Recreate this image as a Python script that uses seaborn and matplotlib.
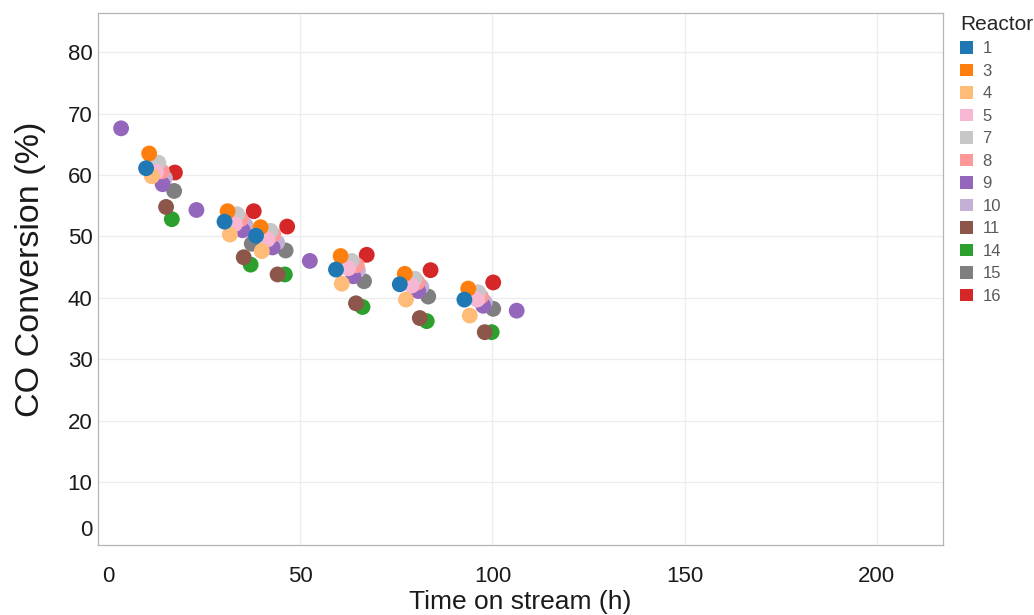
import numpy as np
import pandas as pd
import matplotlib
matplotlib.use("Agg")
import matplotlib.pyplot as plt
import matplotlib.transforms as mtransforms
from matplotlib.patches import Patch
import seaborn as sns

# Reactor ids in legend order and their colours
reactors = ["1", "3", "4", "5", "7", "8", "9", "10", "11", "14", "15", "16"]
colors = ["#1f77b4", "#ff7f0e", "#ffbb78", "#f7b6d2", "#c7c7c7", "#ff9896",
          "#9467bd", "#c5b0d5", "#8c564b", "#2ca02c", "#7f7f7f", "#d62728"]

# Time on stream (h) per reactor
tos_1 = [9.9, 30.3, 38.5, 59.3, 75.9, 92.7]
tos_3 = [10.7, 31.1, 39.7, 60.5, 77.2, 93.7]
tos_4 = [11.4, 31.7, 40.0, 60.8, 77.5, 94.1]
tos_5 = [12.5, 33.0, 41.5, 62.5, 79.0, 96.0]
tos_7 = [13.1, 33.6, 42.3, 63.4, 79.8, 96.3]
tos_8 = [14.0, 34.5, 43.0, 64.7, 80.5, 97.0]
tos_9 = [3.4, 14.2, 23.0, 35.0, 42.8, 52.5, 63.8, 80.7, 97.6, 106.3]
tos_10 = [14.8, 35.8, 44.0, 65.0, 81.5, 98.0]
tos_11 = [15.1, 35.3, 44.1, 64.5, 81.1, 98.0]
tos_14 = [16.6, 37.1, 46.0, 66.2, 82.9, 99.8]
tos_15 = [17.2, 37.4, 46.2, 66.6, 83.3, 100.2]
tos_16 = [17.4, 37.9, 46.6, 67.3, 83.9, 100.2]

# CO conversion (%) per reactor
conv_1 = [61.1, 52.4, 50.1, 44.6, 42.2, 39.7]
conv_3 = [63.5, 54.1, 51.5, 46.8, 43.9, 41.5]
conv_4 = [59.8, 50.3, 47.6, 42.3, 39.7, 37.1]
conv_5 = [60.5, 52.0, 49.5, 44.8, 42.0, 39.7]
conv_7 = [62.0, 53.6, 50.9, 46.0, 43.1, 40.9]
conv_8 = [60.6, 52.8, 50.3, 45.3, 42.5, 40.2]
conv_9 = [67.6, 58.5, 54.3, 51.0, 48.2, 46.0, 43.5, 41.1, 38.7, 37.9]
conv_10 = [59.5, 51.8, 49.0, 44.5, 41.8, 39.3]
conv_11 = [54.8, 46.6, 43.8, 39.1, 36.7, 34.4]
conv_14 = [52.8, 45.4, 43.8, 38.5, 36.2, 34.4]
conv_15 = [57.4, 48.8, 47.7, 42.7, 40.2, 38.2]
conv_16 = [60.4, 54.1, 51.6, 47.0, 44.5, 42.5]

xticks = [0, 50, 100, 150, 200]
yticks = [0, 10, 20, 30, 40, 50, 60, 70, 80]

tos = [tos_1, tos_3, tos_4, tos_5, tos_7, tos_8, tos_9, tos_10,
       tos_11, tos_14, tos_15, tos_16]
conv = [conv_1, conv_3, conv_4, conv_5, conv_7, conv_8, conv_9, conv_10,
        conv_11, conv_14, conv_15, conv_16]

# Last reactor first so reactor 1 ends up on top
frames = []
for r, t, c in reversed(list(zip(reactors, tos, conv))):
    frames.append(pd.DataFrame({"Time on stream (h)": t,
                                "CO Conversion (%)": c,
                                "Reactor": r}))
df = pd.concat(frames, ignore_index=True)

sns.set_theme(style="white")
plt.rcParams["font.family"] = ["Liberation Sans", "DejaVu Sans"]

fig = plt.figure(figsize=(10.34, 6.15), dpi=100)
ax = fig.add_axes([0.0948, 0.114, 0.8172, 0.865])

palette = dict(zip(reactors, colors))
sns.scatterplot(data=df, x="Time on stream (h)", y="CO Conversion (%)",
                hue="Reactor", hue_order=reactors, palette=palette,
                s=130, linewidth=0, alpha=1.0, legend=False, ax=ax, zorder=3)

ax.set_xlim(-2.6, 217.2)
ax.set_ylim(-0.25, 86.4)
ax.set_xticks(xticks)
ax.set_yticks(yticks)
ax.set_xticklabels([str(v) for v in xticks])
ax.set_yticklabels([str(v) for v in yticks])

ax.grid(True, color="#ececec", linewidth=0.9)
ax.set_axisbelow(True)
# no grid line along the zero positions
ax.xaxis.get_major_ticks()[0].gridline.set_visible(False)
ax.yaxis.get_major_ticks()[0].gridline.set_visible(False)
for sp in ax.spines.values():
    sp.set_color("#b5b5b5")
    sp.set_linewidth(0.9)

ax.tick_params(axis="both", labelsize=16, colors="#1a1a1a", length=3,
               color="#c8c8c8", width=0.8)
ax.tick_params(axis="x", pad=12, bottom=False)
ax.tick_params(axis="y", pad=1)

ax.set_xlabel("Time on stream (h)", fontsize=19, color="#1a1a1a", labelpad=2)
ax.set_ylabel("CO Conversion (%)", fontsize=24.5, color="#1a1a1a")
ax.yaxis.set_label_coords(-0.061, 0.518)

# Lift the zero label off the x axis line
zero_lbl = ax.yaxis.get_major_ticks()[0].label1
zero_lbl.set_transform(zero_lbl.get_transform() +
                       mtransforms.ScaledTranslation(0, 11 / 72, fig.dpi_scale_trans))

handles = [Patch(facecolor=c, edgecolor="none", label=r)
           for r, c in zip(reactors, colors)]
leg = fig.legend(handles=handles, title="Reactor", loc="upper left",
                 bbox_to_anchor=(0.917, 0.995), frameon=False, fontsize=12,
                 title_fontsize=15, handlelength=0.8, handleheight=0.8,
                 handletextpad=0.55, labelspacing=0.44, borderpad=0.2,
                 alignment="left")
for txt in leg.get_texts():
    txt.set_color("#595959")

fig.savefig("out.png", dpi=100)
